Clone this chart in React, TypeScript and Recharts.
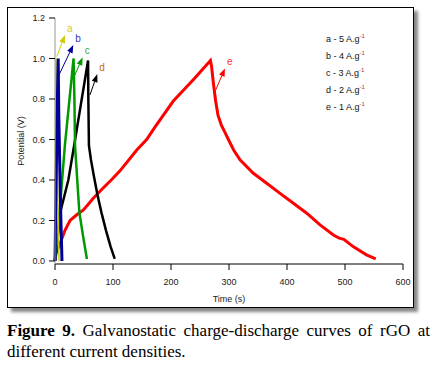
import { LineChart, Line, XAxis, YAxis, ReferenceLine, Legend } from "recharts"

// a - 5 A/g
const timeA = [0, 0.8, 1.5, 2.5, 4, 6, 7]
const potA = [0, 0.75, 1.0, 0.75, 0.45, 0.1, 0]

// b - 4 A/g
const timeB = [0, 1, 2.5, 4, 5.5, 6.5, 8, 10, 11.5, 12]
const potB = [0, 0.2, 0.5, 0.78, 1.0, 0.73, 0.5, 0.22, 0.06, 0]

// c - 3 A/g
const timeC = [0, 5, 17, 32, 33.5, 34.5, 42, 48, 55]
const potC = [0, 0.14, 0.57, 1.0, 0.8, 0.57, 0.24, 0.13, 0.01]

// d - 2 A/g
const timeD = [0, 3, 9, 23, 33, 45, 57, 57.5, 58.5, 62, 67, 73, 80, 88, 96, 103]
const potD = [0, 0.07, 0.24, 0.4, 0.57, 0.78, 0.99, 0.8, 0.57, 0.5, 0.42, 0.33, 0.24, 0.15, 0.07, 0.01]

// e - 1 A/g
const timeE = [0, 2, 8, 17, 26, 37, 49, 66, 83, 97, 112, 141, 158, 172, 204, 240, 268,
  270, 273, 277, 281, 287, 293, 299, 308, 319, 342, 365, 388, 411, 434, 457, 480, 490, 498, 514, 537, 553]
const potE = [0.005, 0.04, 0.08, 0.15, 0.2, 0.227, 0.252, 0.31, 0.36, 0.4, 0.445, 0.548, 0.6, 0.66, 0.79, 0.9, 0.99,
  0.96, 0.88, 0.79, 0.72, 0.67, 0.635, 0.6, 0.548, 0.5, 0.433, 0.384, 0.334, 0.285, 0.236, 0.178, 0.128, 0.113, 0.107, 0.071, 0.03, 0.01]

const xTicks = [0, 100, 200, 300, 400, 500, 600]
const yTicks = [0, 0.2, 0.4, 0.6, 0.8, 1.0, 1.2]

const legendLabels = ["a - 5 A.g", "b - 4 A.g", "c - 3 A.g", "d - 2 A.g", "e - 1 A.g"]

const toPoints = (t: number[], v: number[]) => t.map((x, i) => ({ t: x, v: v[i] }))

const series = [
  { key: "e", color: "#ff0000", width: 3, data: toPoints(timeE, potE) },
  { key: "d", color: "#000000", width: 2.5, data: toPoints(timeD, potD) },
  { key: "c", color: "#009900", width: 2.5, data: toPoints(timeC, potC) },
  { key: "a", color: "#cccc00", width: 1.5, data: toPoints(timeA, potA) },
  { key: "b", color: "#000099", width: 3, data: toPoints(timeB, potB) },
]

// curve labels with arrows (data coords)
const arrows = [
  { label: "a", color: "#cccc00", text: "#d0c820", from: { x: 2.9, y: 1.009 }, to: { x: 17.2, y: 1.116 } },
  { label: "b", color: "#000099", text: "#3333cc", from: { x: 6.9, y: 0.919 }, to: { x: 31.6, y: 1.067 } },
  { label: "c", color: "#009900", text: "#33aa33", from: { x: 32.8, y: 0.909 }, to: { x: 47.7, y: 1.006 } },
  { label: "d", color: "#000000", text: "#cc6600", from: { x: 60.3, y: 0.82 }, to: { x: 72.9, y: 0.923 } },
  { label: "e", color: "#ff0000", text: "#ff3333", from: { x: 277, y: 0.844 }, to: { x: 293, y: 0.951 } },
]

const font = "'Liberation Sans', Arial, sans-serif"

function arrowShape(label: string, color: string, textColor: string) {
  return (p: any) => {
    const { x1, y1, x2, y2 } = p
    const ang = Math.atan2(y2 - y1, x2 - x1)
    const len = 8
    const w = 3
    const bx = x2 - len * Math.cos(ang)
    const by = y2 - len * Math.sin(ang)
    const nx = -Math.sin(ang) * w
    const ny = Math.cos(ang) * w
    return (
      <g>
        <line x1={x1} y1={y1} x2={bx} y2={by} stroke={color} strokeWidth={1} />
        <polygon points={`${x2},${y2} ${bx + nx},${by + ny} ${bx - nx},${by - ny}`} fill={color} />
        <text x={x2 + 2} y={y2 - 3} fill={textColor} fontSize={10} fontFamily={font}>{label}</text>
      </g>
    )
  }
}

function LegendBox() {
  return (
    <div style={{ fontFamily: font, fontSize: 9, lineHeight: "16px", color: "#111", textAlign: "left" }}>
      {legendLabels.map((l) => (
        <div key={l} style={{ whiteSpace: "nowrap" }}>
          {l}
          <span style={{ fontSize: 6, position: "relative", top: -4, color: "#a33" }}>-1</span>
        </div>
      ))}
    </div>
  )
}

export default function App() {
  return (
    <div style={{ position: "absolute", left: 0, top: 0, width: 438, height: 367, background: "#fff" }}>
      <div
        style={{
          position: "absolute",
          left: 7,
          top: 7,
          width: 405,
          height: 299,
          border: "1px solid #000",
          boxShadow: "4px 4px 3px #888",
          background: "#fff",
        }}
      />
      <div style={{ position: "absolute", left: 0, top: 0 }}>
        <LineChart width={438} height={367} margin={{ top: 18, right: 35, bottom: 65, left: 10 }} style={{ fontFamily: font }}>
          <XAxis
            dataKey="t"
            type="number"
            domain={[0, 600]}
            ticks={xTicks}
            height={38}
            tickSize={6}
            tickMargin={9}
            stroke="#000"
            tick={{ fontSize: 9, fill: "#222" }}
            label={{ value: "Time (s)", position: "insideBottom", offset: 0, fontSize: 9, fill: "#222" }}
          />
          <YAxis
            dataKey="v"
            type="number"
            domain={[-0.015, 1.2]}
            ticks={yTicks}
            width={45}
            tickSize={6}
            tickMargin={4}
            axisLine={{ stroke: "#999" }}
            tickLine={{ stroke: "#000" }}
            tick={{ fontSize: 9, fill: "#222" }}
            tickFormatter={(v: number) => v.toFixed(1)}
            label={{ value: "Potential (V)", angle: -90, position: "center", dx: -12, fontSize: 9, fill: "#222" }}
          />
          {series.map((s) => (
            <Line
              key={s.key}
              data={s.data}
              dataKey="v"
              type="linear"
              stroke={s.color}
              strokeWidth={s.width}
              dot={false}
              activeDot={false}
              legendType="none"
              isAnimationActive={false}
            />
          ))}
          {arrows.map((a) => (
            <ReferenceLine
              key={a.label}
              segment={[a.from, a.to]}
              ifOverflow="visible"
              shape={arrowShape(a.label, a.color, a.text)}
            />
          ))}
          <Legend
            layout="vertical"
            align="center"
            verticalAlign="middle"
            content={() => <LegendBox />}
            wrapperStyle={{ top: 31, left: 326, width: 70 }}
          />
        </LineChart>
      </div>
      <div
        style={{
          position: "absolute",
          left: 7,
          top: 320,
          width: 423,
          fontFamily: "'Liberation Serif', 'Times New Roman', serif",
          fontSize: 17,
          lineHeight: "21px",
          color: "#000",
        }}
      >
        <div style={{ textAlign: "justify", textAlignLast: "justify" }}>
          <b>Figure 9.</b> Galvanostatic charge-discharge curves of rGO at
        </div>
        <div>different current densities.</div>
      </div>
    </div>
  )
}
